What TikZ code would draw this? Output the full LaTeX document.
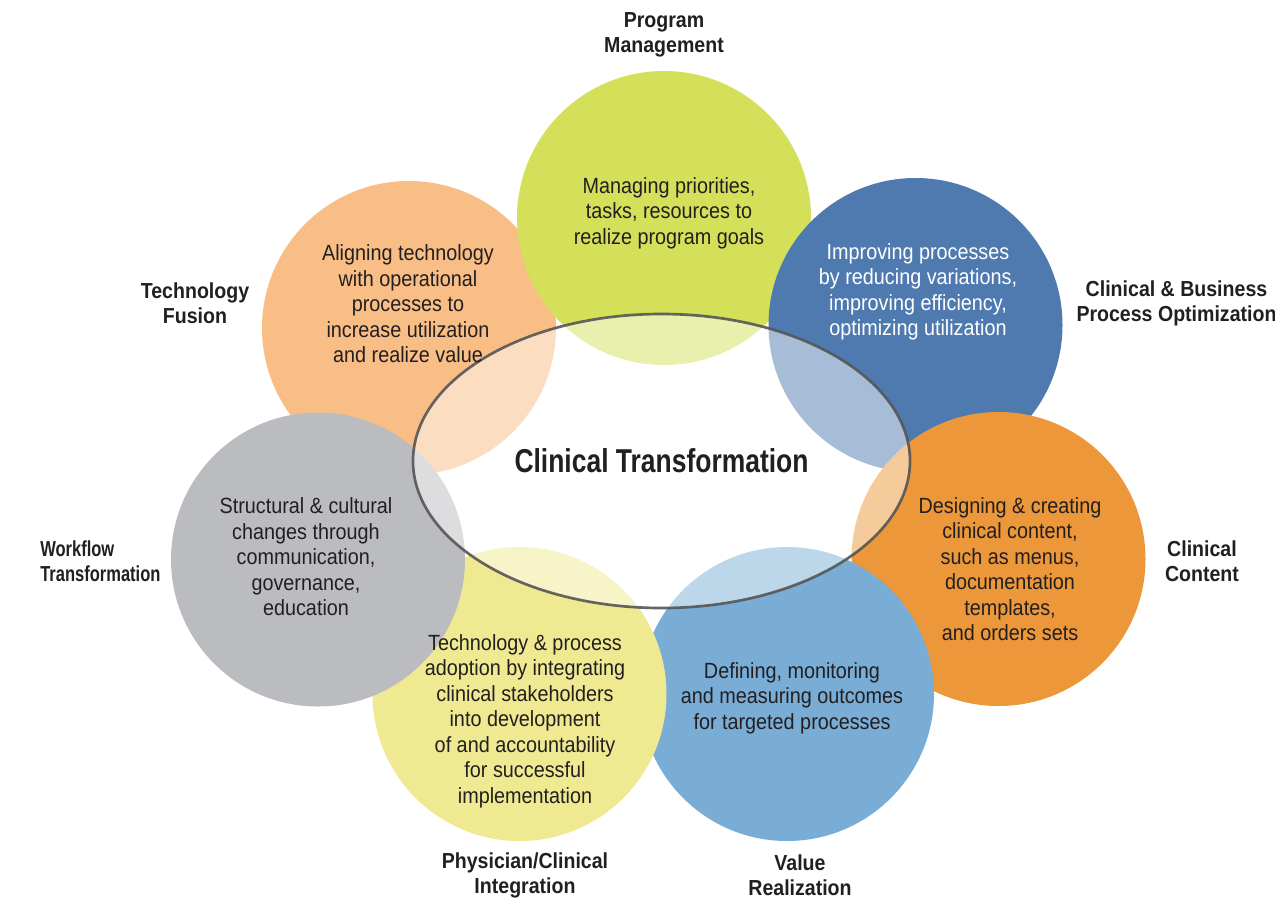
\documentclass[tikz,border=0pt]{standalone}
\usepackage{fontspec}
\setmainfont{Liberation Sans}[FakeStretch=0.9]
\newfontfamily\titlefont{Liberation Sans}[FakeStretch=0.8]
\newfontfamily\narrowfont{Liberation Sans}[FakeStretch=0.76]
\usetikzlibrary{shapes.geometric}

\definecolor{ink}{HTML}{231F20}
\definecolor{pmgreen}{HTML}{D4DF5A}
\definecolor{tfpeach}{HTML}{F8BE86}
\definecolor{cbblue}{HTML}{4F7AB0}
\definecolor{ccorange}{HTML}{EC973A}
\definecolor{vrblue}{HTML}{79ADD6}
\definecolor{pcyellow}{HTML}{EFE992}
\definecolor{wtgray}{HTML}{BBBCC0}
\definecolor{rim}{HTML}{555555}

\begin{document}
\begin{tikzpicture}[x=0.75pt,y=-0.75pt,
  petal/.style={circle, minimum size=220.5pt, inner sep=0pt, draw=none},
  body/.style={align=center, font=\fontsize{16.5}{19.1}\selectfont, text=ink, inner sep=0pt},
  tag/.style={align=center, font=\fontsize{16.3}{18.8}\selectfont\bfseries, text=ink, inner sep=0pt},
  core/.style={ellipse, minimum width=372.75pt, minimum height=220.5pt, inner sep=0pt,
    fill=white, fill opacity=0.5, text opacity=1, draw=rim, draw opacity=0.9, line width=2pt,
    font=\titlefont\fontsize{24.8}{28}\selectfont\bfseries, text=ink},
]
\useasboundingbox (0,0) rectangle (1275,901);
\fill[white] (0,0) rectangle (1275,901);

% the seven circles, in stacking order
\node[petal, fill=tfpeach]  (fusion)    at (409,328) {};
\node[petal, fill=pmgreen]  (program)   at (664,218) {};
\node[petal, fill=cbblue]   (process)   at (915.5,325) {};
\node[petal, fill=ccorange] (content)   at (998.5,559) {};
\node[petal, fill=vrblue]   (value)     at (787,694) {};
\node[petal, fill=pcyellow] (physician) at (519.5,694) {};
\node[petal, fill=wtgray]   (workflow)  at (318,559.5) {};

% central ellipse over everything
\node[core] (center) at (661.5,461) {Clinical Transformation};

% texts inside the circles
\node[body] (programtxt) at (669,213) {Managing priorities,\\tasks, resources to\\realize program goals};
\node[body] (fusiontxt) at (408,304) {Aligning technology\\with operational\\processes to\\increase utilization\\and realize value};
\node[body, text=white] (processtxt) at (918,292) {Improving processes\\by reducing variations,\\improving efficiency,\\optimizing utilization};
\node[body] (contenttxt) at (1010,569) {Designing \& creating\\clinical content,\\such as menus,\\documentation\\templates,\\and orders sets};
\node[body] (valuetxt) at (792,698) {Defining, monitoring\\and measuring outcomes\\for targeted processes};
\node[body] (physiciantxt) at (525,721) {Technology \& process\\adoption by integrating\\clinical stakeholders\\into development\\of and accountability\\for successful\\implementation};
\node[body] (workflowtxt) at (306,557) {Structural \& cultural\\changes through\\communication,\\governance,\\education};

% outer titles
\node[tag] (programlbl) at (664,35) {Program\\Management};
\node[tag] (fusionlbl) at (195,303) {Technology\\Fusion};
\node[tag] (processlbl) at (1176.5,303) {Clinical \& Business\\Process Optimization};
\node[tag] (contentlbl) at (1202,561.5) {Clinical\\Content};
\node[tag, align=left, anchor=west, font=\narrowfont\fontsize{16.3}{18.8}\selectfont\bfseries] (workflowlbl) at (40,561.5) {Workflow\\Transformation};
\node[tag] (physicianlbl) at (525,875) {Physician/Clinical\\Integration};
\node[tag] (valuelbl) at (800,875) {Value\\Realization};
\end{tikzpicture}
\end{document}
